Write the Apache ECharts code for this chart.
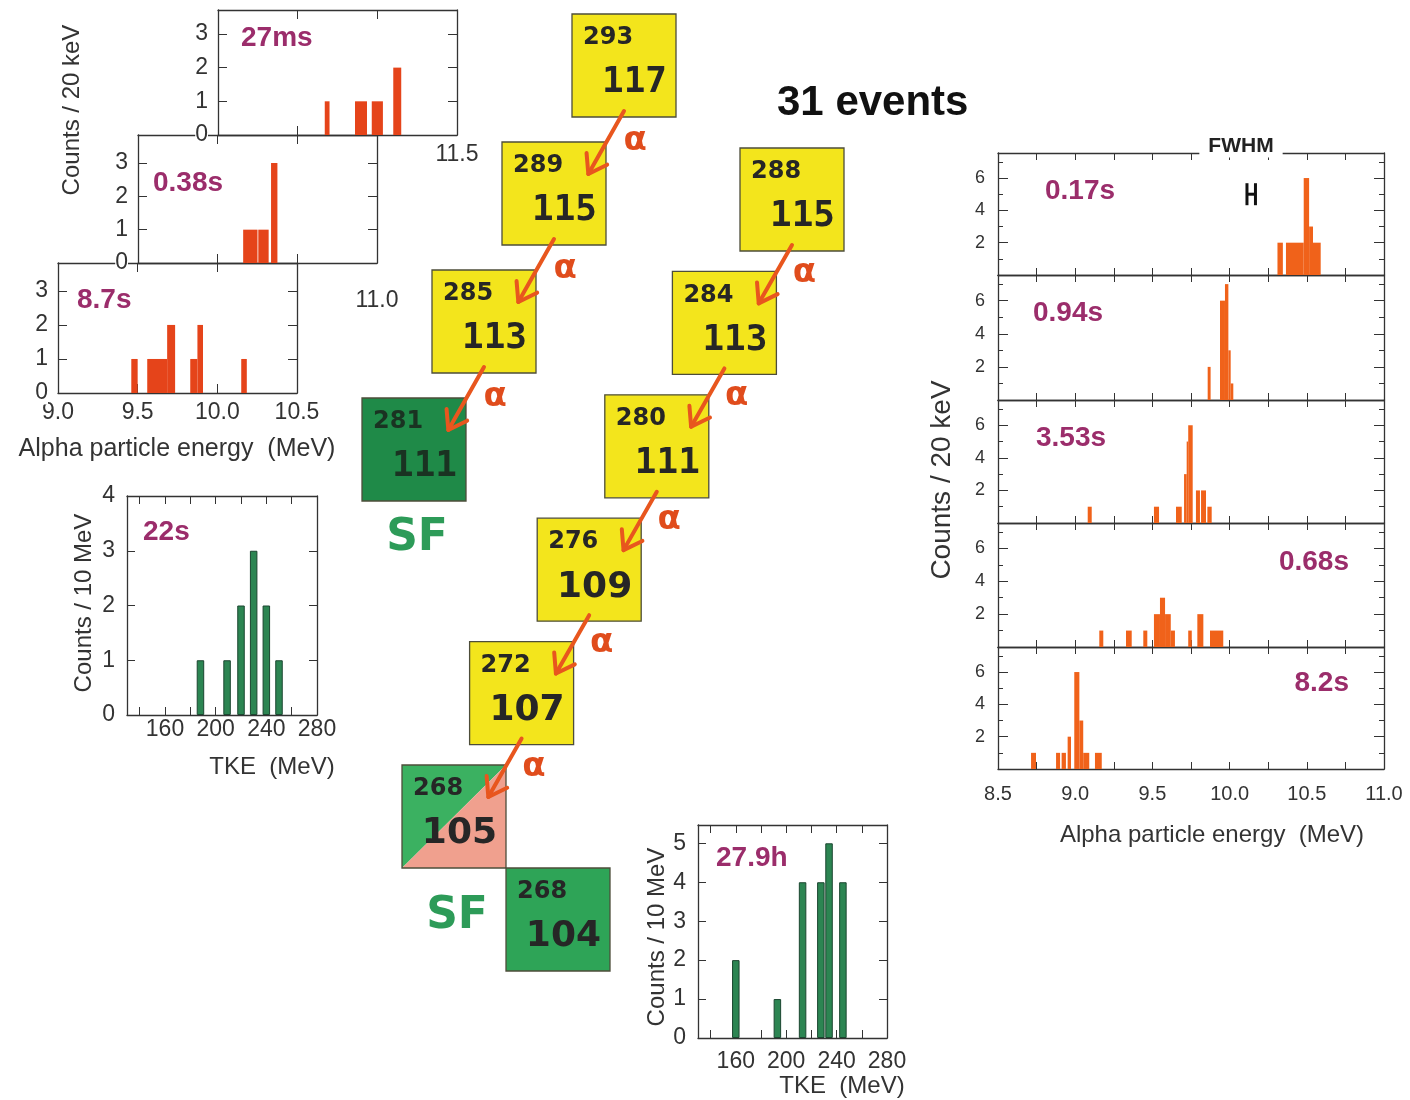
<!DOCTYPE html>
<html>
<head>
<meta charset="utf-8">
<title>Element 117 decay chains</title>
<script src="https://cdn.jsdelivr.net/npm/echarts@6.0.0/dist/echarts.min.js"></script>
<style>
html, body { margin: 0; padding: 0; background: #fff; }
#chart { width: 1410px; height: 1100px; }
</style>
</head>
<body>
<div id="chart"></div>
<script>
// ---------------- data ----------------
// Alpha-particle spectra: blocks of [E low (MeV), E high (MeV), counts / 20 keV]
const alpha293 = [[10.67, 10.70, 1], [10.86, 10.935, 1], [10.965, 11.035, 1], [11.10, 11.15, 2]];
const alpha289 = [[10.16, 10.25, 1], [10.255, 10.32, 1], [10.335, 10.375, 3]];
const alpha285 = [[9.46, 9.50, 1], [9.56, 9.685, 1], [9.685, 9.735, 2], [9.83, 9.875, 1], [9.875, 9.91, 2], [10.15, 10.185, 1]];
const alpha288 = [[10.31, 10.345, 2], [10.365, 10.48, 2], [10.48, 10.515, 6], [10.515, 10.54, 3], [10.54, 10.59, 2]];
const alpha284 = [[9.858, 9.877, 2], [9.938, 9.97, 6], [9.97, 9.992, 7], [9.992, 10.007, 3], [10.007, 10.024, 1]];
const alpha280 = [[9.081, 9.107, 1], [9.51, 9.543, 1], [9.653, 9.69, 1], [9.705, 9.722, 3], [9.722, 9.732, 5], [9.732, 9.761, 6], [9.782, 9.808, 2], [9.815, 9.847, 2], [9.856, 9.884, 1]];
const alpha276 = [[9.156, 9.182, 1], [9.329, 9.366, 1], [9.441, 9.467, 1], [9.51, 9.549, 2], [9.549, 9.582, 3], [9.582, 9.619, 2], [9.619, 9.646, 1], [9.732, 9.755, 1], [9.791, 9.83, 2], [9.873, 9.959, 1]];
const alpha272 = [[8.714, 8.746, 1], [8.876, 8.902, 1], [8.912, 8.94, 1], [8.951, 8.973, 2], [8.994, 9.027, 6], [9.027, 9.052, 3], [9.052, 9.091, 1], [9.128, 9.172, 1]];

// Detector resolution marker (MeV): centre, full width, height in counts
const fwhmCentre = 10.14;
const fwhmWidth = 0.055;
const fwhmLevel = 5;

// Fission fragments: total kinetic energy (MeV), counts / 10 MeV
const tke281Energy = [188, 209, 220, 230, 240, 250];
const tke281Counts = [1, 1, 2, 3, 2, 1];
const tke268Energy = [160, 193, 213, 227.5, 234, 245];
const tke268Counts = [2, 1, 4, 4, 5, 4];

// Half-lives
const leftHalfLives = ['27ms', '0.38s', '8.7s'];
const tkeHalfLives = ['22s', '27.9h'];
const rightHalfLives = ['0.17s', '0.94s', '3.53s', '0.68s', '8.2s'];

// Tick labels
const stackTicks293 = [11.5];
const stackTicks289 = [11.0];
const stackTicks285 = [9.0, 9.5, 10.0, 10.5];
const rightEnergyTicks = [8.5, 9.0, 9.5, 10.0, 10.5, 11.0];
const rightCountTicks = [2, 4, 6];
const tkeTicks = [160, 200, 240, 280];

// Decay chains: mass number A and atomic number Z
const chainAMass = [293, 289, 285, 281];
const chainAZ = [117, 115, 113, 111];
const chainBMass = [288, 284, 280, 276, 272, 268];
const chainBZ = [115, 113, 111, 109, 107, 105];
const ecMass = [268];
const ecZ = [104];

// ---------------- styling ----------------
const INK = '#333';
const FONT = '"Liberation Sans", Arial, sans-serif';
const HL_COLOR = '#9b2d6b';
const BAR_LEFT = '#e5441a';
const BAR_RIGHT = '#f0621a';
const BAR_GREEN = '#2c8552';
const YELLOW = '#f3e51c';
const GREEN_DARK = '#1f8a48';
const GREEN_MID = '#2ea457';
const GREEN_LIGHT = '#3bb161';
const PINK = '#f0a08e';
const ARROW = '#e8561e';
const SF_GREEN = '#2d9b58';

const grids = [
  { left: 218, top: 10, width: 239, height: 125 },   // 0  A=293 spectrum
  { left: 138, top: 135, width: 239, height: 128 },  // 1  A=289 spectrum
  { left: 58, top: 263, width: 239, height: 130 },   // 2  A=285 spectrum
  { left: 127, top: 496, width: 190, height: 219 },  // 3  TKE 281
  { left: 698, top: 825, width: 189, height: 213 },  // 4  TKE 268
  { left: 998, top: 153, width: 386, height: 122 },  // 5  A=288
  { left: 998, top: 275, width: 386, height: 125 },  // 6  A=284
  { left: 998, top: 400, width: 386, height: 123 },  // 7  A=280
  { left: 998, top: 523, width: 386, height: 124 },  // 8  A=276
  { left: 998, top: 647, width: 386, height: 122 },  // 9  A=272
  { left: 0, top: 0, width: 1410, height: 1100 }      // 10 decay-chain layout plane
];

const xAxis = [], yAxis = [], series = [], graphic = [];

function near(list, v) { return list.some(function (s) { return Math.abs(s - v) < 1e-6; }); }

function makeAxis(list, gi, pos, scale, tickLen, label, extra) {
  const ax = Object.assign({
    type: 'value', gridIndex: gi, position: pos, min: scale.min, max: scale.max,
    axisLine: { show: true, onZero: false, lineStyle: { color: INK, width: 1.3 } },
    axisTick: { show: true, inside: true, length: tickLen, lineStyle: { color: INK, width: 1 } },
    splitLine: { show: false },
    axisLabel: label ? Object.assign({ show: true, color: INK, fontFamily: FONT, fontSize: 20, margin: 8 }, label) : { show: false }
  }, extra || {});
  if (scale.interval != null) ax.interval = scale.interval; else ax.splitNumber = scale.splitNumber;
  list.push(ax);
  return list.length - 1;
}

function blockSeries(xi, yi, data, color) {
  return {
    type: 'custom', xAxisIndex: xi, yAxisIndex: yi, data: data, silent: true, clip: true,
    encode: { x: [0, 1], y: 2 },
    renderItem: function (params, api) {
      const tl = api.coord([api.value(0), api.value(2)]);
      const br = api.coord([api.value(1), 0]);
      return { type: 'rect', shape: { x: tl[0], y: tl[1], width: br[0] - tl[0], height: br[1] - tl[1] }, style: { fill: color } };
    }
  };
}

function txt(x, y, text, font, fill, opt) {
  opt = opt || {};
  const el = {
    type: 'text', x: x, y: y, z: opt.z || 50, rotation: opt.rotation || 0, silent: true,
    style: {
      text: text, font: font, fill: fill || INK,
      align: opt.align || 'left', textAlign: opt.align || 'left',
      verticalAlign: 'middle', textVerticalAlign: 'middle'
    }
  };
  if (opt.bg) {
    el.style.backgroundColor = opt.bg; el.style.textBackgroundColor = opt.bg;
    el.style.padding = opt.pad; el.style.textPadding = opt.pad;
  }
  return el;
}

// ---------------- upper-left stacked alpha spectra ----------------
const leftStack = [
  { grid: 0, spec: alpha293, min: 10.0, max: 11.5, ymax: 3.71, ticks: stackTicks293, margin: 8 },
  { grid: 1, spec: alpha289, min: 9.5, max: 11.0, ymax: 3.84, ticks: stackTicks289, margin: 26 },
  { grid: 2, spec: alpha285, min: 9.0, max: 10.5, ymax: 3.82, ticks: stackTicks285, margin: 8 }
];
leftStack.forEach(function (p) {
  const tk = p.ticks;
  const xi = makeAxis(xAxis, p.grid, 'bottom', { min: p.min, max: p.max, interval: 0.5 }, 9,
    { fontSize: 23, margin: p.margin, formatter: function (v) { return near(tk, v) ? v.toFixed(1) : ''; } });
  makeAxis(xAxis, p.grid, 'top', { min: p.min, max: p.max, interval: 0.5 }, 9, null);
  const yi = makeAxis(yAxis, p.grid, 'left', { min: 0, max: p.ymax, interval: 1 }, 9,
    { fontSize: 23, margin: 10, backgroundColor: '#fff', formatter: function (v) { return Number.isInteger(v) ? String(v) : ''; } }, { z: 5 });
  makeAxis(yAxis, p.grid, 'right', { min: 0, max: p.ymax, interval: 1 }, 9, null);
  series.push(blockSeries(xi, yi, p.spec, BAR_LEFT));
});

// ---------------- TKE spectra ----------------
const tkePanels = [
  { grid: 3, E: tke281Energy, N: tke281Counts, ymax: 4, margin: 3 },
  { grid: 4, E: tke268Energy, N: tke268Counts, ymax: 5.47, margin: 12 }
];
tkePanels.forEach(function (p) {
  const xi = makeAxis(xAxis, p.grid, 'bottom', { min: 130, max: 280, splitNumber: 7 }, 8,
    { fontSize: 23, margin: p.margin, formatter: function (v) { return near(tkeTicks, v) ? String(v) : ''; } });
  makeAxis(xAxis, p.grid, 'top', { min: 130, max: 280, splitNumber: 7 }, 8, null);
  const yi = makeAxis(yAxis, p.grid, 'left', { min: 0, max: p.ymax, interval: 1 }, 8,
    { fontSize: 23, margin: 12, formatter: function (v) { return Number.isInteger(v) ? String(v) : ''; } });
  makeAxis(yAxis, p.grid, 'right', { min: 0, max: p.ymax, interval: 1 }, 8, null);
  series.push({
    type: 'bar', xAxisIndex: xi, yAxisIndex: yi, barWidth: 7.5, silent: true,
    data: p.E.map(function (e, i) { return [e, p.N[i]]; }),
    itemStyle: { color: BAR_GREEN, borderColor: '#1b4630', borderWidth: 1 }
  });
});

// ---------------- right stacked alpha spectra ----------------
const rightSpectra = [alpha288, alpha284, alpha280, alpha276, alpha272];
const rightAxes = [];
rightSpectra.forEach(function (spec, k) {
  const gi = 5 + k;
  const last = k === rightSpectra.length - 1;
  const xs = { min: 8.5, max: 11.0, interval: 0.25 };
  const ys = { min: 0, max: 7.55, interval: 2 };
  const ysMinor = { min: 0, max: 7.55, interval: 1 };
  const xi = makeAxis(xAxis, gi, 'bottom', xs, 7, last ? {
    fontSize: 20, margin: 15, formatter: function (v) { return near(rightEnergyTicks, v) ? v.toFixed(1) : ''; }
  } : null);
  makeAxis(xAxis, gi, 'top', xs, 7, null);
  const yi = makeAxis(yAxis, gi, 'left', ys, 10,
    { fontSize: 18, margin: 13, formatter: function (v) { return near(rightCountTicks, v) ? String(v) : ''; } });
  makeAxis(yAxis, gi, 'left', ysMinor, 5, null, { axisLine: { show: false, onZero: false } });
  makeAxis(yAxis, gi, 'right', ys, 10, null);
  makeAxis(yAxis, gi, 'right', ysMinor, 5, null, { axisLine: { show: false, onZero: false } });
  rightAxes.push([xi, yi]);
  series.push(blockSeries(xi, yi, spec, BAR_RIGHT));
});

// resolution marker in the top right panel
series.push({
  type: 'custom', xAxisIndex: rightAxes[0][0], yAxisIndex: rightAxes[0][1], silent: true,
  data: [[fwhmCentre, fwhmLevel]],
  renderItem: function (params, api) {
    const a = api.coord([api.value(0) - fwhmWidth / 2, api.value(1)]);
    const b = api.coord([api.value(0) + fwhmWidth / 2, api.value(1)]);
    const st = { stroke: '#111', lineWidth: 3 };
    return {
      type: 'group', children: [
        { type: 'line', shape: { x1: a[0], y1: a[1], x2: b[0], y2: b[1] }, style: st },
        { type: 'line', shape: { x1: a[0], y1: a[1] - 11, x2: a[0], y2: a[1] + 11 }, style: st },
        { type: 'line', shape: { x1: b[0], y1: b[1] - 11, x2: b[0], y2: b[1] + 11 }, style: st }
      ]
    };
  }
});

// ---------------- decay-chain diagram ----------------
const layoutX = makeAxis(xAxis, 10, 'bottom', { min: 0, max: 1410, interval: 1410 }, 0, null, { show: false });
const layoutY = makeAxis(yAxis, 10, 'left', { min: 0, max: 1100, interval: 1100 }, 0, null, { show: false, inverse: true });

const CELL_W = 104, CELL_H = 103;
function place(masses, zs, x0, y0, dx, dy) {
  return masses.map(function (a, i) { return { a: a, z: zs[i], x: x0 + dx * i, y: y0 + dy * i, fill: YELLOW }; });
}
const cellsA = place(chainAMass, chainAZ, 572, 14, -70, 128);
const cellsB = place(chainBMass, chainBZ, 740, 148, -67.6, 123.4);
const lastB = cellsB[cellsB.length - 1];
const cellsEC = place(ecMass, ecZ, lastB.x + CELL_W, lastB.y + CELL_H, 0, 0);
cellsA[cellsA.length - 1].fill = GREEN_DARK;
cellsA[cellsA.length - 1].sf = 38;
lastB.split = true;
lastB.sf = 49;
cellsEC[0].fill = GREEN_MID;
const cells = cellsA.concat(cellsB, cellsEC);

series.push({
  type: 'custom', xAxisIndex: layoutX, yAxisIndex: layoutY, silent: true, clip: false,
  data: cells.map(function (c, i) { return [c.x, c.y, i]; }),
  renderItem: function (params, api) {
    const c = cells[params.dataIndex];
    const p = api.coord([api.value(0), api.value(1)]);
    const s = api.size([CELL_W, CELL_H]);
    const w = s[0], h = s[1];
    const kids = [];
    const edge = { stroke: '#4d4d3a', lineWidth: 1.3 };
    if (c.split) {
      kids.push({ type: 'polygon', shape: { points: [[p[0], p[1]], [p[0] + w, p[1]], [p[0], p[1] + h]] }, style: { fill: GREEN_LIGHT } });
      kids.push({ type: 'polygon', shape: { points: [[p[0] + w, p[1]], [p[0] + w, p[1] + h], [p[0], p[1] + h]] }, style: { fill: PINK } });
      kids.push({ type: 'rect', shape: { x: p[0], y: p[1], width: w, height: h }, style: Object.assign({ fill: 'none' }, edge) });
    } else {
      kids.push({ type: 'rect', shape: { x: p[0], y: p[1], width: w, height: h }, style: Object.assign({ fill: c.fill }, edge) });
    }
    const ink = c.fill === GREEN_DARK ? '#1a3322' : '#262626';
    const zFont = c.z >= 110 ? 'bold 36px "DejaVu Sans Mono"' : 'bold 36px "DejaVu Sans"';
    kids.push({ type: 'text', x: p[0] + 11, y: p[1] + 24, style: { text: String(c.a), font: 'bold 24px "DejaVu Sans"', fill: ink, align: 'left', textAlign: 'left', verticalAlign: 'middle', textVerticalAlign: 'middle' } });
    kids.push({ type: 'text', x: p[0] + w - 9, y: p[1] + 69, style: { text: String(c.z), font: zFont, fill: ink, align: 'right', textAlign: 'right', verticalAlign: 'middle', textVerticalAlign: 'middle' } });
    if (c.sf) {
      kids.push({ type: 'text', x: p[0] + w / 2 + 3, y: p[1] + h + c.sf, style: { text: 'SF', font: 'bold 44px "DejaVu Sans"', fill: SF_GREEN, align: 'center', textAlign: 'center', verticalAlign: 'middle', textVerticalAlign: 'middle' } });
    }
    return { type: 'group', children: kids };
  }
});

// alpha-decay arrows: from the lower middle of the parent to the upper right of the daughter
function links(list) {
  const out = [];
  for (let i = 0; i + 1 < list.length; i++) {
    const a = list[i], b = list[i + 1];
    out.push([a.x + CELL_W * 0.5, a.y + CELL_H - 6, b.x + CELL_W * 0.83, b.y + CELL_H * 0.31]);
  }
  return out;
}
const arrows = links(cellsA).concat(links(cellsB));
series.push({
  type: 'custom', xAxisIndex: layoutX, yAxisIndex: layoutY, silent: true, clip: false,
  data: arrows,
  renderItem: function (params, api) {
    const p1 = api.coord([api.value(0), api.value(1)]);
    const p2 = api.coord([api.value(2), api.value(3)]);
    const ang = Math.atan2(p1[1] - p2[1], p1[0] - p2[0]);
    const L = 21, spread = 0.6;
    const h1 = [p2[0] + L * Math.cos(ang + spread), p2[1] + L * Math.sin(ang + spread)];
    const h2 = [p2[0] + L * Math.cos(ang - spread), p2[1] + L * Math.sin(ang - spread)];
    const st = { stroke: ARROW, lineWidth: 4, lineCap: 'round', lineJoin: 'round', fill: 'none' };
    const mx = (p1[0] + p2[0]) / 2, my = (p1[1] + p2[1]) / 2;
    return {
      type: 'group', children: [
        { type: 'line', shape: { x1: p1[0], y1: p1[1], x2: p2[0], y2: p2[1] }, style: st },
        { type: 'polyline', shape: { points: [h1, p2, h2] }, style: st },
        { type: 'text', x: mx + 29, y: my - 1, style: { text: 'α', font: 'bold 34px "DejaVu Sans"', fill: '#e04c1c', align: 'center', textAlign: 'center', verticalAlign: 'middle', textVerticalAlign: 'middle' } }
      ]
    };
  }
});

// ---------------- free text ----------------
const BOLD_HL = 'bold 28px ' + FONT;
graphic.push(txt(241, 38, leftHalfLives[0], BOLD_HL, HL_COLOR));
graphic.push(txt(153, 183, leftHalfLives[1], BOLD_HL, HL_COLOR));
graphic.push(txt(77, 300, leftHalfLives[2], BOLD_HL, HL_COLOR));
graphic.push(txt(143, 532, tkeHalfLives[0], BOLD_HL, HL_COLOR));
graphic.push(txt(716, 858, tkeHalfLives[1], BOLD_HL, HL_COLOR));
graphic.push(txt(1045, 191, rightHalfLives[0], BOLD_HL, HL_COLOR));
graphic.push(txt(1033, 313, rightHalfLives[1], BOLD_HL, HL_COLOR));
graphic.push(txt(1036, 438, rightHalfLives[2], BOLD_HL, HL_COLOR));
graphic.push(txt(1349, 562, rightHalfLives[3], BOLD_HL, HL_COLOR, { align: 'right' }));
graphic.push(txt(1349, 683, rightHalfLives[4], BOLD_HL, HL_COLOR, { align: 'right' }));

graphic.push(txt(777, 103, '31 events', 'bold 42px ' + FONT, '#111'));
graphic.push(txt(1241, 146, 'FWHM', 'bold 21px ' + FONT, '#222', { align: 'center', bg: '#fff', pad: [1, 9], z: 60 }));

const AX_NAME = '24px ' + FONT;
graphic.push(txt(72, 110, 'Counts / 20 keV', AX_NAME, INK, { align: 'center', rotation: Math.PI / 2 }));
graphic.push(txt(177, 449, 'Alpha particle energy  (MeV)', '25px ' + FONT, INK, { align: 'center' }));
graphic.push(txt(84, 603, 'Counts / 10 MeV', AX_NAME, INK, { align: 'center', rotation: Math.PI / 2 }));
graphic.push(txt(272, 767, 'TKE  (MeV)', AX_NAME, INK, { align: 'center' }));
graphic.push(txt(657, 937, 'Counts / 10 MeV', AX_NAME, INK, { align: 'center', rotation: Math.PI / 2 }));
graphic.push(txt(842, 1086, 'TKE  (MeV)', AX_NAME, INK, { align: 'center' }));
graphic.push(txt(942, 480, 'Counts / 20 keV', '28px ' + FONT, INK, { align: 'center', rotation: Math.PI / 2 }));
graphic.push(txt(1212, 835, 'Alpha particle energy  (MeV)', '24px ' + FONT, INK, { align: 'center' }));

const option = {
  animation: false,
  backgroundColor: '#fff',
  grid: grids.map(function (g) { return Object.assign({ show: false, containLabel: false, outerBoundsMode: 'none' }, g); }),
  xAxis: xAxis,
  yAxis: yAxis,
  series: series,
  graphic: { elements: graphic }
};

const chart = echarts.init(document.getElementById('chart'), null, { renderer: 'canvas' });
chart.setOption(option);
</script>
</body>
</html>
